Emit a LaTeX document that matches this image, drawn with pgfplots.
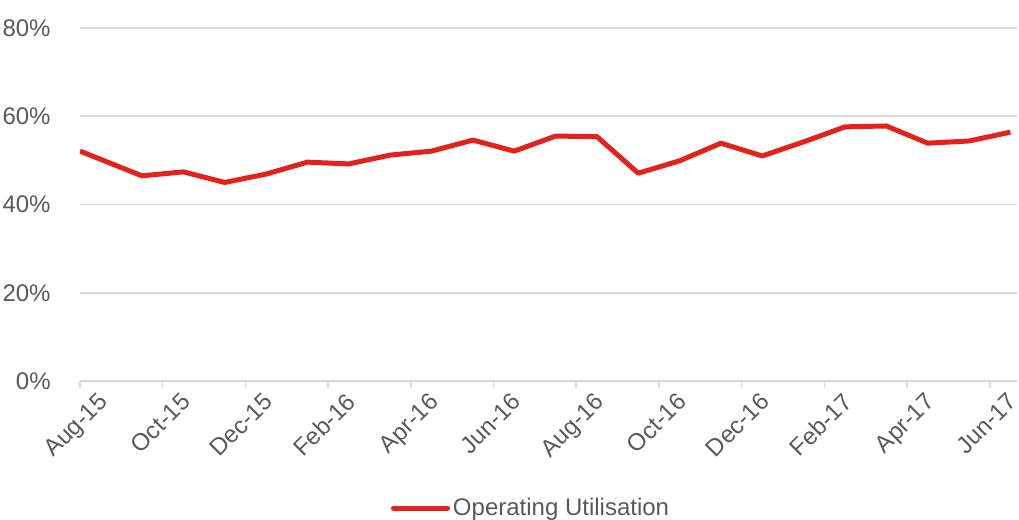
\documentclass[border=0pt]{standalone}
\usepackage{pgfplots}
\pgfplotsset{compat=1.18}
\usepackage{fontspec}
\setmainfont{Liberation Sans}
\definecolor{linered}{HTML}{E3221C}
\definecolor{gridgray}{HTML}{D9D9D9}
\definecolor{txtgray}{HTML}{595959}
\pgfplotstableread{
m val
0 52.1
1.5 46.5
2.5 47.4
3.5 45.0
4.5 46.9
5.5 49.6
6.5 49.2
7.5 51.2
8.5 52.1
9.5 54.6
10.5 52.1
11.5 55.5
12.5 55.4
13.5 47.1
14.5 49.9
15.5 53.9
16.5 51.0
17.5 54.2
18.5 57.6
19.5 57.8
20.5 53.9
21.5 54.4
22.5 56.4
}\datatable
\begin{document}
\begin{tikzpicture}
\begin{axis}[
  at={(0,0)}, anchor=south west,
  scale only axis,
  width=468.5pt, height=176.5pt,
  xmin=0, xmax=22.66, ymin=0, ymax=80,
  axis x line*=bottom, axis y line*=left,
  x axis line style={draw=gridgray, line width=0.8pt, -},
  y axis line style={draw=none},
  xtick={0,2,...,22},
  xticklabels={Aug-15,Oct-15,Dec-15,Feb-16,Apr-16,Jun-16,Aug-16,Oct-16,Dec-16,Feb-17,Apr-17,Jun-17},
  ytick={0,20,40,60,80},
  yticklabels={0\%,20\%,40\%,60\%,80\%},
  tick align=outside,
  major tick length=3.5pt,
  xtick style={draw=gridgray, line width=0.8pt},
  ytick style={draw=none},
  ymajorgrids,
  major grid style={draw=gridgray, line width=0.8pt},
  xticklabel style={xshift=8.5pt, yshift=-1.5pt, rotate=45, anchor=north east, inner sep=0pt, text=txtgray, font=\fontsize{12}{14}\selectfont},
  yticklabel style={anchor=east, inner sep=0pt, xshift=-11pt, text=txtgray, font=\fontsize{12}{14}\selectfont},
  legend style={at={(0.4819,-0.36)}, anchor=center, draw=none, fill=none, inner sep=0pt,
    font=\fontsize{12}{14}\selectfont, text=txtgray, nodes={inner sep=1.5pt}},
  legend image code/.code={\draw[#1, line width=2.5pt, line cap=round] (0pt,0pt) -- (27pt,0pt);},
]
\addplot[linered, line width=2.5pt, line join=round, mark=none] table[x=m, y=val] {\datatable};
\addlegendentry{Operating Utilisation}
\end{axis}
\pgfresetboundingbox
\path (-40pt,-69.5pt) rectangle (469.5pt,190.5pt);
\end{tikzpicture}
\end{document}
